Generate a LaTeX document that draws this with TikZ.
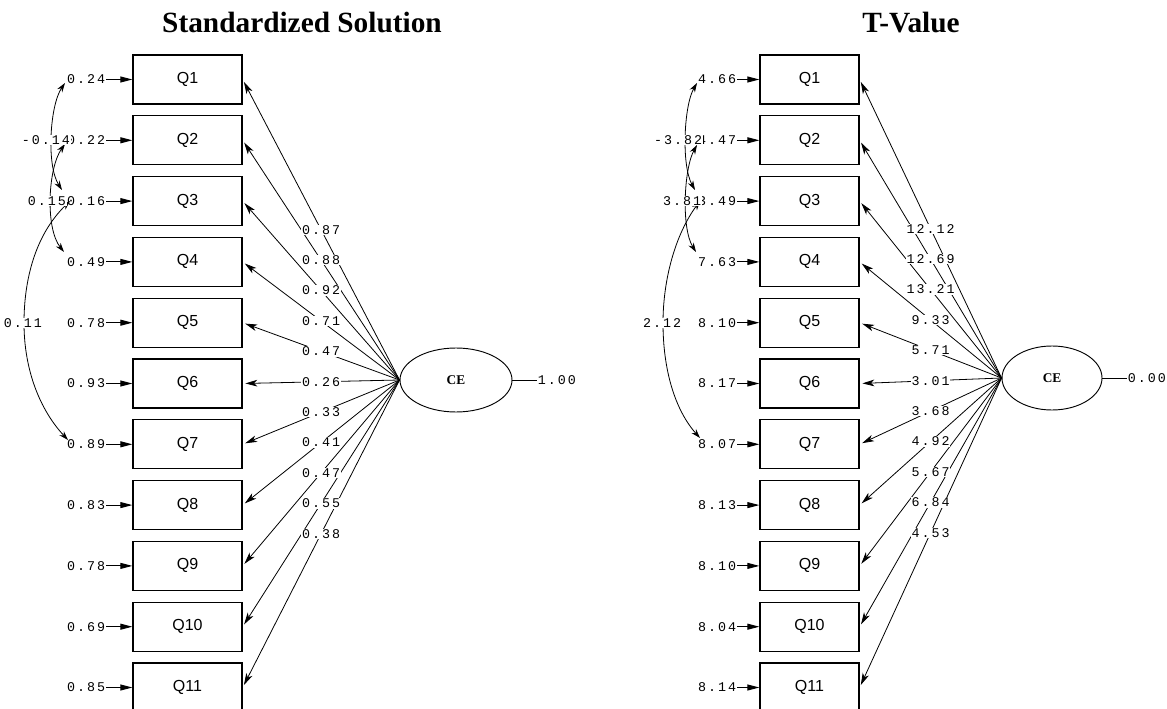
\documentclass[tikz,border=0pt]{standalone}
\usepackage{fontspec}
\setmainfont{Liberation Serif}
\newfontfamily\monofam[LetterSpace=15]{Liberation Mono}
\newfontfamily\boxfam{Liberation Sans}
\usetikzlibrary{shapes.geometric,arrows.meta}
\begin{document}
\begin{tikzpicture}[x=0.75pt,y=-0.75pt,
  obs/.style={draw, line width=1pt, minimum width=81.75pt, minimum height=36.75pt, inner sep=0pt, font=\boxfam\fontsize{12}{12}\selectfont},
  obsR/.style={obs, minimum width=74.25pt},
  lat/.style={draw, ellipse, line width=0.7pt, minimum width=84pt, minimum height=48pt, inner sep=0pt, font=\bfseries\fontsize{10}{10}\selectfont},
  num/.style={inner sep=0.5pt, font=\monofam\fontsize{10}{10}\selectfont},
  numbg/.style={num, fill=white},
  ttl/.style={anchor=base, inner sep=0pt, font=\bfseries\fontsize{22}{22}\selectfont},
  errarr/.style={line width=0.7pt, -{Triangle[length=9pt,width=4.5pt]}},
  load/.style={line width=0.6pt, -{Stealth[length=9pt,width=5pt,inset=2.5pt]}, shorten >=2pt},
  cov/.style={line width=0.6pt, {Stealth[length=7pt,width=4.5pt]}-{Stealth[length=7pt,width=4.5pt]}},
  plain/.style={line width=0.6pt}
]
\useasboundingbox (0,0) rectangle (1167,709);
\clip (0,0) rectangle (1167,709);

\node[ttl] (tL) at (302,33) {Standardized Solution};
\node[ttl] (tR) at (911,33) {T-Value};

\node[lat] (CEL) at (456,380) {CE};
\node[lat, minimum width=75pt] (CER) at (1052,378) {CE};

\node[num, anchor=west] (oneL) at (537,380) {1.00};
\node[num, anchor=west] (oneR) at (1127,378) {0.00};
\draw[plain] (CEL.east) -- (oneL.west);
\draw[plain] (CER.east) -- (oneR.west);

\foreach \i/\e/\te in {1/0.24/4.66, 2/0.22/4.47, 3/0.16/3.49, 4/0.49/7.63, 5/0.78/8.10, 6/0.93/8.17, 7/0.89/8.07, 8/0.83/8.13, 9/0.78/8.10, 10/0.69/8.04, 11/0.85/8.14}{
  \pgfmathsetmacro\yy{79.5+60.8*(\i-1)}
  \node[obs] (QL\i) at (187.5,\yy) {Q\i};
  \node[obsR] (QR\i) at (809.5,\yy) {Q\i};
  \node[num, anchor=east] (eL\i) at (106,\yy) {\e};
  \node[num, anchor=east] (eR\i) at (737,\yy) {\te};
  \draw[errarr] (eL\i) -- (QL\i);
  \draw[errarr] (eR\i) -- (QR\i);
  \draw[load] (CEL.west) -- (QL\i.east);
  \draw[load] (CER.west) -- (QR\i.east);
}

\foreach \i/\l/\tl in {1/0.87/12.12, 2/0.88/12.69, 3/0.92/13.21, 4/0.71/9.33, 5/0.47/5.71, 6/0.26/3.01, 7/0.33/3.68, 8/0.41/4.92, 9/0.47/5.67, 10/0.55/6.84, 11/0.38/4.53}{
  \path (CEL.west) -- (QL\i.east) node[numbg, midway] (lL\i) {\l};
  \path (CER.west) -- (QR\i.east) node[numbg, midway] (lR\i) {\tl};
}

% covariances, left
\coordinate (aL1) at (65,83);  \coordinate (bL1) at (62,190);
\draw[cov] (aL1) .. controls (50,105) and (46,165) .. (bL1);
\coordinate (aL2) at (65,144); \coordinate (bL2) at (64,252);
\draw[cov] (aL2) .. controls (48,168) and (45,228) .. (bL2);
\coordinate (aL3) at (70,201); \coordinate (mL3) at (24,323); \coordinate (bL3) at (68,440);
\draw[cov] (aL3) .. controls (35,235) and (24,280) .. (mL3) .. controls (24,370) and (40,410) .. (bL3);
\node[numbg] (cL1) at (46,140) {-0.14};
\node[numbg] (cL2) at (47,201) {0.15};
\node[numbg] (cL3) at (23,323) {0.11};

% covariances, right
\coordinate (aR1) at (697,83);  \coordinate (bR1) at (695,190);
\draw[cov] (aR1) .. controls (684,105) and (681,165) .. (bR1);
\coordinate (aR2) at (697,145); \coordinate (bR2) at (696,252);
\draw[cov] (aR2) .. controls (684,168) and (681,228) .. (bR2);
\coordinate (aR3) at (700,201); \coordinate (mR3) at (663,323); \coordinate (bR3) at (700,438);
\draw[cov] (aR3) .. controls (675,235) and (663,280) .. (mR3) .. controls (663,370) and (675,410) .. (bR3);
\node[numbg] (cR1) at (678,140) {-3.82};
\node[numbg] (cR2) at (682,201) {3.81};
\node[numbg] (cR3) at (662,323) {2.12};
\end{tikzpicture}
\end{document}
